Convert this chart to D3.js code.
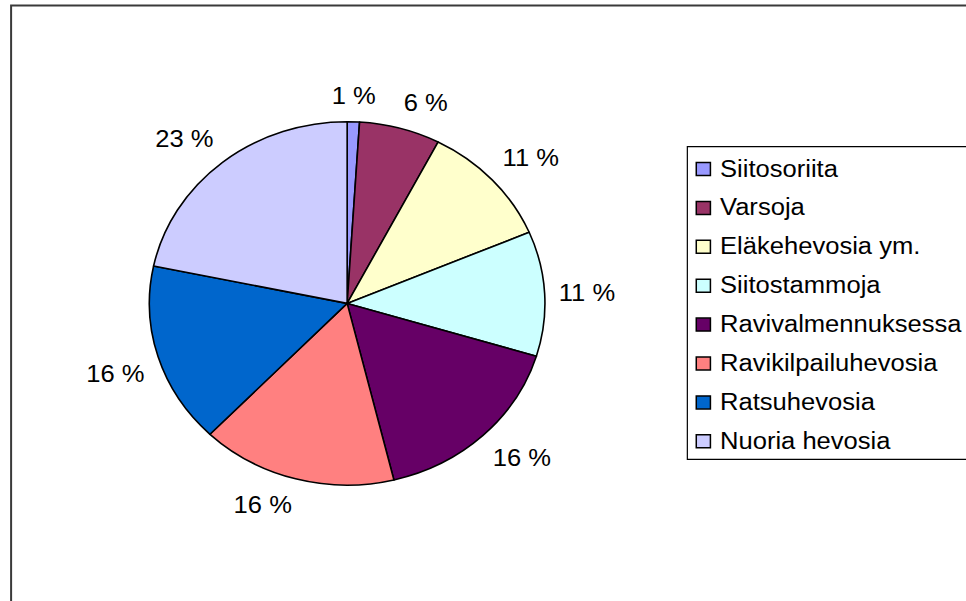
<!DOCTYPE html>
<html><head><meta charset="utf-8">
<script src="https://cdn.jsdelivr.net/npm/d3@7"></script>
<style>html,body{margin:0;padding:0;background:#fff;overflow:hidden}</style>
</head><body>
<svg id="chart" width="966" height="601"></svg>
<script>
// ---- data ----
const categories = ["Siitosoriita","Varsoja","Eläkehevosia ym.","Siitostammoja","Ravivalmennuksessa","Ravikilpailuhevosia","Ratsuhevosia","Nuoria hevosia"];
const shares = [1.0, 6.6, 11.0, 11.1, 16.5, 16.0, 16.1, 21.7];
const percentLabels = ["1 %","6 %","11 %","11 %","16 %","16 %","16 %","23 %"];
const colors = ["#9999FF","#993366","#FFFFCC","#CCFFFF","#660066","#FF8080","#0066CC","#CCCCFF"];

// ---- layout ----
const W = 966, H = 601;
const sx = 1.0886;              // horizontal stretch of the original picture
const cx = 318.9, cy = 303.4, r = 181.7;
const fs = 23.5;
const font = "'Liberation Sans', Arial, Helvetica, sans-serif";

const svg = d3.select("#chart");
const g = svg.append("g").attr("transform", `scale(${sx},1)`);

// outer chart border
g.append("rect")
  .attr("x", 10.2).attr("y", 5.5)
  .attr("width", W).attr("height", H)
  .attr("fill", "none").attr("stroke", "#3a3a3a").attr("stroke-width", 2)
  .attr("vector-effect", "non-scaling-stroke");

// pie
const pie = d3.pie().sort(null).value(d => d);
const arcs = pie(shares);
const arc = d3.arc().innerRadius(0).outerRadius(r);
const pg = g.append("g").attr("transform", `translate(${cx},${cy})`);
pg.selectAll("path").data(arcs).enter().append("path")
  .attr("d", arc)
  .attr("fill", (d, i) => colors[i])
  .attr("stroke", "#000").attr("stroke-width", 1.6)
  .attr("stroke-linejoin", "round")
  .attr("vector-effect", "non-scaling-stroke");

// percentage labels outside the pie
const gap = 13;
pg.selectAll("text").data(arcs).enter().append("text")
  .each(function(d, i) {
    const a = (d.startAngle + d.endAngle) / 2;
    const s = Math.sin(a), c = Math.cos(a);
    const px = (r + gap) * s, py = -(r + gap) * c;
    let anchor = "middle";
    if (s > 0.1) anchor = "start"; else if (s < -0.1) anchor = "end";
    let base;
    if (c > 0.1) base = py - 0.212 * fs;          // box bottom at anchor point
    else if (c < -0.1) base = py + 0.905 * fs;    // box top at anchor point
    else base = py + 0.3465 * fs;                 // box centred
    d3.select(this)
      .attr("x", px).attr("y", base)
      .attr("text-anchor", anchor)
      .attr("font-family", font).attr("font-size", fs)
      .attr("fill", "#000")
      .text(percentLabels[i]);
  });

// legend
const lx = 631.4, ly = 146.7, lh = 312.6;
g.append("rect")
  .attr("x", lx).attr("y", ly).attr("width", 400).attr("height", lh)
  .attr("fill", "#fff").attr("stroke", "#000").attr("stroke-width", 1.2)
  .attr("vector-effect", "non-scaling-stroke");

const rowStep = 38.9, firstBase = 176.5, sq = 13;
const lg = g.append("g");
const rows = lg.selectAll("g").data(categories).enter().append("g")
  .attr("transform", (d, i) => `translate(0,${firstBase + i * rowStep})`);
rows.append("rect")
  .attr("x", 639.6).attr("y", -7.5 - sq / 2)
  .attr("width", sq).attr("height", sq)
  .attr("fill", (d, i) => colors[i])
  .attr("stroke", "#000").attr("stroke-width", 1.5)
  .attr("vector-effect", "non-scaling-stroke");
rows.append("text")
  .attr("x", 661.4).attr("y", 0)
  .attr("font-family", font).attr("font-size", fs)
  .attr("fill", "#000")
  .text(d => d);
</script>
</body></html>
